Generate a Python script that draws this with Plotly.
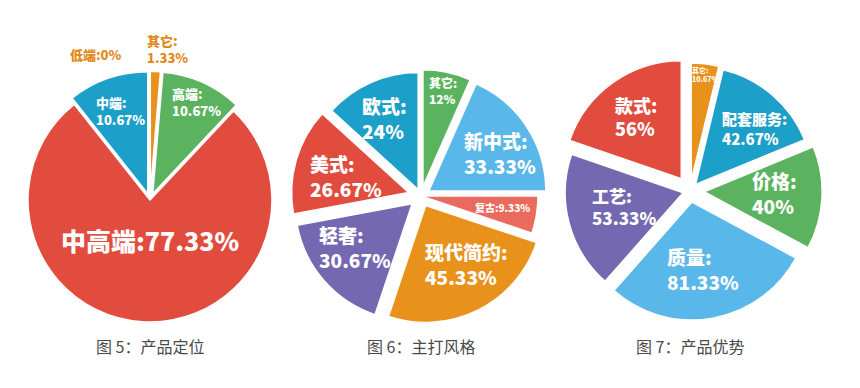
import plotly.graph_objects as go

W, H = 860, 388

# ---------------- data ----------------
pie1_labels = ["其它", "高端", "中高端", "中端", "低端"]
pie1_values = [1.33, 10.67, 77.33, 10.67, 0]
pie1_title = "图 5：产品定位"

pie2_labels = ["其它", "新中式", "复古", "现代简约", "轻奢", "美式", "欧式"]
pie2_values = [12, 33.33, 9.33, 45.33, 30.67, 26.67, 24]
pie2_title = "图 6：主打风格"

pie3_labels = ["其它", "配套服务", "价格", "质量", "工艺", "款式"]
pie3_values = [10.67, 42.67, 40, 81.33, 53.33, 56]
pie3_title = "图 7：产品优势"

# ---------------- styles ----------------
RED = "#E14C3E"
TEAL = "#1C9FC8"
GREEN = "#5BB35F"
ORANGE = "#E8921C"
LBLUE = "#5AB7EA"
PURPLE = "#7469B1"
LRED = "#EB6A5E"
LABEL_ORANGE = "#E2891A"

pie1_colors = [ORANGE, GREEN, RED, TEAL, ORANGE]
pie1_pull = [0.055, 0.055, 0.0, 0.055, 0]
pie2_colors = [GREEN, LBLUE, LRED, ORANGE, PURPLE, RED, TEAL]
pie2_pull = [0.08, 0.08, 0.0, 0.09, 0.10, 0.11, 0.06]
pie3_colors = [ORANGE, TEAL, GREEN, LBLUE, PURPLE, RED]
pie3_pull = [0.085, 0.072, 0.12, 0.095, 0.06, 0.127]

# pie geometry: (center x px, center y px, pie radius px)
geo1 = (150, 200, 122)
geo2 = (421, 196, 117)
geo3 = (690, 191, 118)

# label placement per slice: (left x px, center y px, font size, two-line?, color)
lab1 = [(145, 49, 13, True, LABEL_ORANGE), (170, 102, 13, True, "white"),
        (150, 240, 25, False, "white"), (94, 111, 13, True, "white"),
        (95, 55, 13, False, LABEL_ORANGE)]
lab2 = [(427, 90, 12, True, "white"), (462, 153, 19, True, "white"),
        (473, 207, 10, False, "white"), (423, 264, 19, True, "white"),
        (317, 247, 19, True, "white"), (308, 176, 19, True, "white"),
        (360, 118, 19, True, "white")]
lab3 = [(690, 75, 7, True, "white"), (720, 129, 15, True, "white"),
        (750, 193, 19, True, "white"), (665, 269, 19, True, "white"),
        (590, 206, 17, True, "white"), (613, 116, 18, True, "white")]

FONT_B = "Noto Sans CJK SC"


def fmt(v):
    return f"{v:g}"


def domain(geo, pulls):
    cx, cy, r = geo
    h = r * (1 + max(pulls))
    return dict(x=[(cx - h) / W, (cx + h) / W],
                y=[1 - (cy + h) / H, 1 - (cy - h) / H])


fig = go.Figure()
annotations = []


def add_pie(labels, values, colors, pulls, geo, labs, title, centered_idx):
    keep = [i for i, v in enumerate(values) if v > 0]
    fig.add_trace(go.Pie(
        labels=[labels[i] for i in keep],
        values=[values[i] for i in keep],
        marker=dict(colors=[colors[i] for i in keep],
                    line=dict(color="white", width=1.5)),
        pull=[pulls[i] for i in keep],
        sort=False, direction="clockwise", rotation=0,
        textinfo="none", hoverinfo="label+value",
        showlegend=False, domain=domain(geo, [pulls[i] for i in keep]),
    ))
    for i, (lab, val) in enumerate(zip(labels, values)):
        x, y, size, two, color = labs[i]
        sep = ":<br>" if two else ":"
        text = f"{lab}{sep}{fmt(val)}%"
        centered = i in centered_idx
        annotations.append(dict(
            x=x / W, y=1 - y / H, xref="paper", yref="paper",
            text=text, showarrow=False,
            xanchor="center" if centered else "left",
            yanchor="middle", align="left",
            font=dict(family=FONT_B, size=size, color=color, weight=900),
        ))
    annotations.append(dict(
        x=geo[0] / W, y=1 - 346 / H, xref="paper", yref="paper",
        text=title, showarrow=False, xanchor="center", yanchor="middle",
        font=dict(family=FONT_B, size=16, color="#4a4a4a"),
    ))


add_pie(pie1_labels, pie1_values, pie1_colors, pie1_pull, geo1, lab1, pie1_title, {2, 4})
add_pie(pie2_labels, pie2_values, pie2_colors, pie2_pull, geo2, lab2, pie2_title, set())
add_pie(pie3_labels, pie3_values, pie3_colors, pie3_pull, geo3, lab3, pie3_title, set())

fig.update_layout(
    width=W, height=H,
    margin=dict(l=0, r=0, t=0, b=0),
    paper_bgcolor="white", plot_bgcolor="white",
    annotations=annotations,
)

fig.write_html("out.html", config={"displayModeBar": False},
               post_script="document.body.style.margin='0';document.body.style.overflow='hidden';")
